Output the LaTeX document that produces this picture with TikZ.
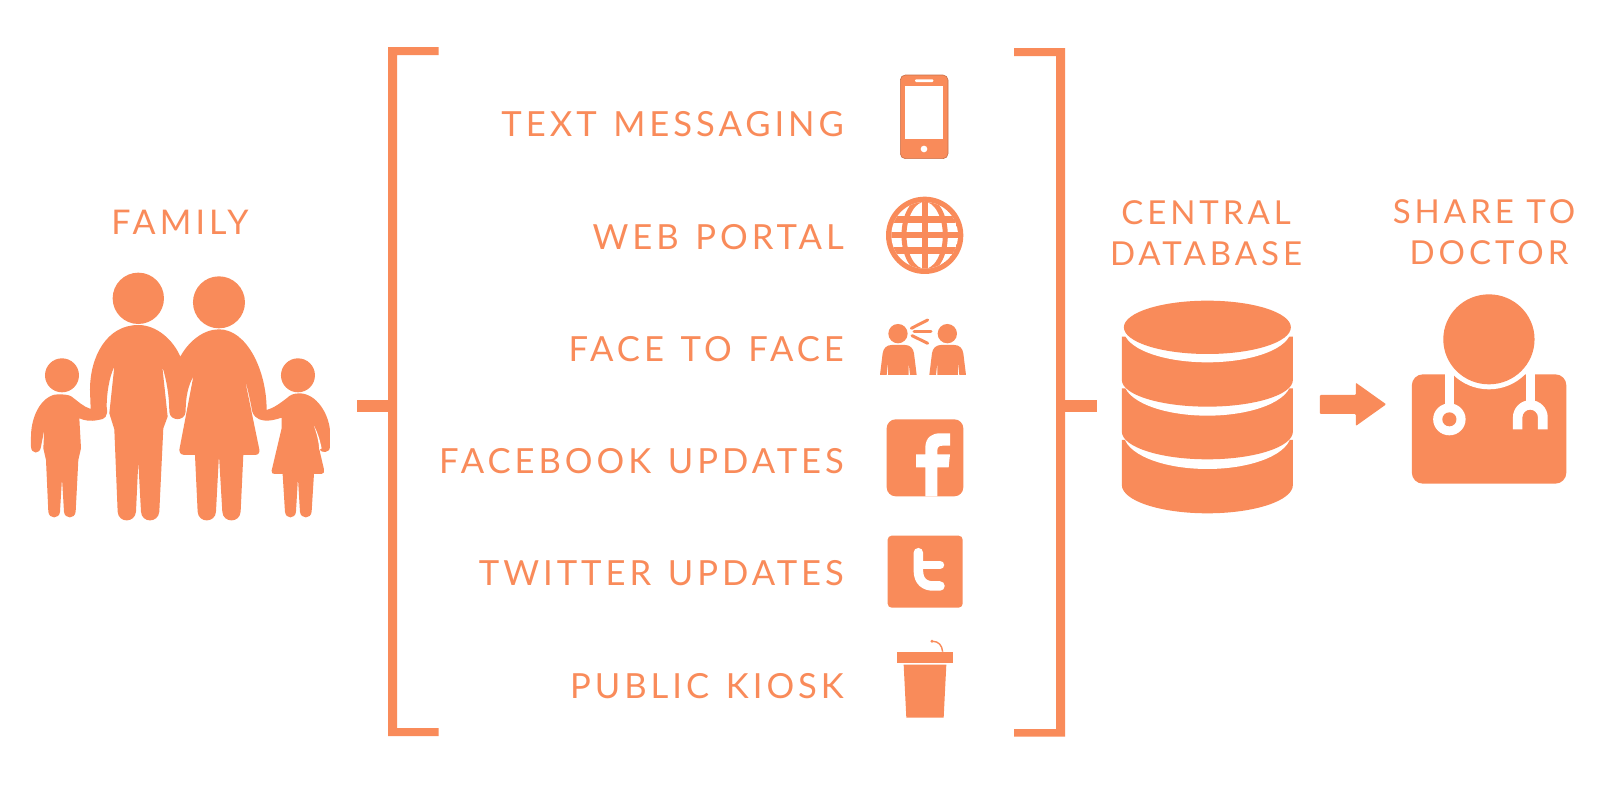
\documentclass[tikz,border=0pt]{standalone}
\usepackage{fontspec}
\setmainfont{Lato}[LetterSpace=12]
\newfontfamily\labfont{Lato}[LetterSpace=11.5,WordSpace=1.3]
\definecolor{org}{HTML}{F98B5A}
\tikzset{
  lab/.style={text=org,font=\fontsize{33}{39}\selectfont,inner sep=0pt},
  labr/.style={text=org,font=\labfont\fontsize{34.6}{39}\selectfont,inner sep=0pt,anchor=base east},
  labc/.style={lab,anchor=base,align=center},
  labf/.style={labc,font=\fontsize{34}{39}\selectfont},
}
\begin{document}
\begin{tikzpicture}[x=1pt,y=-1pt,line join=round]
\useasboundingbox (0,0) rectangle (1607,785);
\fill[white] (0,0) rectangle (1607,785);
% brackets
\fill[org] (438.5,47) -- (388,47) -- (388,736) -- (438.5,736) -- (438.5,728) -- (397,728) -- (397,55) -- (438.5,55) -- cycle;
\fill[org] (1014,48) -- (1065,48) -- (1065,736.5) -- (1014,736.5) -- (1014,729) -- (1056,729) -- (1056,56) -- (1014,56) -- cycle;
\coordinate (lstubA) at (357,400); \coordinate (lstubB) at (388,412);
\coordinate (rstubA) at (1065,400); \coordinate (rstubB) at (1096.5,412);
\fill[org] (lstubA) rectangle (lstubB);
\fill[org] (rstubA) rectangle (rstubB);
% labels
\node[labf] (family) at (180,234.5) {FAMILY};
\node[labr] (t1) at (844,136) {TEXT MESSAGING};
\node[labr] (t2) at (844,249) {WEB PORTAL};
\node[labr] (t3) at (844,361) {FACE TO FACE};
\node[labr] (t4) at (844,473) {FACEBOOK UPDATES};
\node[labr] (t5) at (844,585) {TWITTER UPDATES};
\node[labr] (t6) at (844,698) {PUBLIC KIOSK};
\node[labc] (db) at (1206,224) {CENTRAL};
\node[labc] (db2) at (1206,265) {DATABASE};
\node[labc] (sh) at (1484,223) {SHARE TO};
\node[labc] (sh2) at (1489,264) {DOCTOR};
% family
\begin{scope}[shift={(0,190)},x=0.3333pt,y=-0.3333pt]
\fill[org] (415,325) circle[radius=77];
\fill[org] (657,337) circle[radius=78];
\fill[org] (186,556) circle[radius=51];
\fill[org] (894,556) circle[radius=51];
\fill[org] (415,405) .. controls (320,405) and (270,500) .. (270,600)
 -- (272,657) .. controls (250,650) and (235,635) .. (215,620)
 .. controls (205,612) and (170,612) .. (160,615)
 .. controls (115,630) and (93,690) .. (93,740) -- (93,770)
 .. controls (93,792) and (120,795) .. (123,770) -- (133,718)
 -- (130,775) -- (138,810) -- (145,965)
 .. controls (147,988) and (178,988) .. (180,965) -- (186,865) -- (192,965)
 .. controls (194,988) and (225,988) .. (227,965) -- (235,810) -- (243,775) -- (238,685)
 .. controls (255,692) and (270,695) .. (295,690)
 .. controls (315,688) and (325,680) .. (320,650)
 .. controls (320,610) and (328,560) .. (343,530)
 -- (328,670) -- (343,718) -- (353,965)
 .. controls (355,1000) and (405,1000) .. (408,965) -- (415,815) -- (423,965)
 .. controls (425,1000) and (475,1000) .. (478,965) -- (490,715)
 -- (503,680) -- (487,530)
 .. controls (500,570) and (508,620) .. (508,665)
 .. controls (510,695) and (555,695) .. (557,665)
 .. controls (557,620) and (565,585) .. (580,560)
 -- (538,780) .. controls (540,792) and (545,795) .. (552,795) -- (585,795) -- (593,965)
 .. controls (595,1000) and (646,1000) .. (648,965) -- (657,795) -- (667,965)
 .. controls (669,1000) and (720,1000) .. (722,965) -- (730,795) -- (765,795)
 .. controls (775,795) and (780,788) .. (778,778) -- (735,570)
 .. controls (745,600) and (752,640) .. (757,665)
 .. controls (765,690) and (790,692) .. (800,692)
 .. controls (815,692) and (830,688) .. (845,683) -- (845,715)
 -- (815,842) .. controls (814,850) and (818,852) .. (825,852) -- (848,852) -- (855,965)
 .. controls (857,988) and (886,988) .. (888,965) -- (894,865) -- (900,965)
 .. controls (902,988) and (933,988) .. (935,965) -- (942,852) -- (965,852)
 .. controls (972,852) and (973,845) .. (972,838) -- (958,778)
 .. controls (965,790) and (990,790) .. (990,770) -- (990,720)
 .. controls (985,670) and (950,612) .. (900,610)
 .. controls (880,610) and (870,615) .. (860,625)
 .. controls (840,640) and (820,655) .. (800,660)
 .. controls (800,540) and (740,418) .. (657,418)
 .. controls (610,418) and (565,455) .. (541,500)
 .. controls (520,450) and (470,405) .. (415,405) -- cycle;
\fill[white] (942,708) .. controls (952,735) and (957,760) .. (958,780) -- (965,775) .. controls (960,750) and (952,725) .. (942,708) -- cycle;
\end{scope}
% column 1 icons
\begin{scope}[shift={(860,50)},x=0.3333pt,y=-0.3333pt]
\fill[org,draw=org!80!black,line width=0.6pt,rounded corners=5pt] (121,75) rectangle (264,326);
\fill[white] (136,107) rectangle (250,268);
\fill[white] (192,297) circle[radius=10];
\fill[white,rounded corners=1pt] (165,88) rectangle (220,96);
% globe
\fill[org] (194,556) circle[radius=116];
\begin{scope}
\clip (194,556) circle[radius=100];
\fill[white] (194,556) circle[radius=100];
\fill[org] (60,499) rectangle (330,518);
\fill[org] (60,547) rectangle (330,565);
\fill[org] (60,592) rectangle (330,611);
\fill[org] (185,440) rectangle (203,670);
\draw[org,line width=5pt] (194,556) ellipse[x radius=62,y radius=108];
\end{scope}
% face to face
\fill[org] (114,851) circle[radius=29];
\fill[org] (262,851) circle[radius=29];
\foreach \dx in {0,148}{
\fill[org,shift={(\dx,0)}] (60,975) -- (68,910) .. controls (70,895) and (80,885) .. (95,885) -- (135,885)
  .. controls (150,885) and (160,895) .. (162,910) -- (170,975) -- (150,975) -- (146,938) -- (146,975) -- (84,975) -- (84,938) -- (80,975) -- cycle;
}
\draw[org,line width=3pt,line cap=round] (154,835) -- (203,810);
\draw[org,line width=3pt,line cap=round] (162,845) -- (213,845);
\draw[org,line width=3pt,line cap=round] (156,857) -- (203,880);
\end{scope}
% column 2 icons
\begin{scope}[shift={(860,400)},x=0.3333pt,y=-0.3333pt]
\fill[org,rounded corners=9pt] (80,58) rectangle (310,289);
\fill[white] (196,289) -- (196,202) -- (168,202) -- (168,163) -- (196,163) -- (196,140)
  .. controls (198,112) and (215,100) .. (240,100) -- (270,100) -- (270,137) -- (248,137)
  .. controls (236,137) and (232,142) .. (232,152) -- (232,163) -- (270,163) -- (266,202) -- (232,202) -- (232,289) -- cycle;
\fill[org,rounded corners=4pt] (83,407) rectangle (308,623);
\draw[white,line width=9.5pt,line cap=round] (175,458) -- (175,510) .. controls (175,545) and (195,558) .. (220,558) -- (240,558);
\draw[white,line width=8.5pt,line cap=round] (175,495) -- (240,495);
\fill[org] (111,755) rectangle (280,788);
\fill[org] (131,794) -- (259,794) -- (251,953) -- (139,953) -- cycle;
\draw[org,line width=1.4pt] (248,755) .. controls (246,735) and (235,724) .. (218,724);
\fill[org] (216,724) circle[radius=5];
\end{scope}
% database
\begin{scope}[shift={(1060,280)},x=0.338pt,y=-0.3333pt]
\fill[org] (183,480) -- (689,480) -- (689,615) arc[start angle=0,end angle=180,x radius=253,y radius=85] -- cycle;
\fill[white] (436,462) ellipse[x radius=247,y radius=105];
\fill[org] (183,325) -- (689,325) -- (689,455) arc[start angle=0,end angle=180,x radius=253,y radius=83] -- cycle;
\fill[white] (436,305) ellipse[x radius=247,y radius=102];
\fill[org] (183,170) -- (689,170) -- (689,300) arc[start angle=0,end angle=180,x radius=253,y radius=80] -- cycle;
\fill[white] (436,150) ellipse[x radius=247,y radius=97];
\fill[org] (436,142) ellipse[x radius=247,y radius=80];
% arrow
\fill[org,rounded corners=1pt] (769,345) -- (875,345) -- (875,308) -- (965,373) -- (875,438) -- (875,402) -- (769,402) -- cycle;
% doctor
\fill[org,rounded corners=11pt] (1041,283) rectangle (1498,611);
\fill[white] (1269,178) circle[radius=150];
\fill[org] (1269,178) circle[radius=135];
\fill[white] (1140,283) rectangle (1166,380);
\fill[white] (1152,418) circle[radius=48];
\fill[org] (1152,418) circle[radius=21];
\fill[white] (1378,283) rectangle (1405,370);
\fill[white] (1340,448) -- (1340,412) arc[start angle=180,end angle=360,radius=51.5] -- (1443,448) -- (1414,448) -- (1414,412) arc[start angle=360,end angle=180,radius=23] -- (1368,448) -- cycle;
\end{scope}
\end{tikzpicture}
\end{document}
